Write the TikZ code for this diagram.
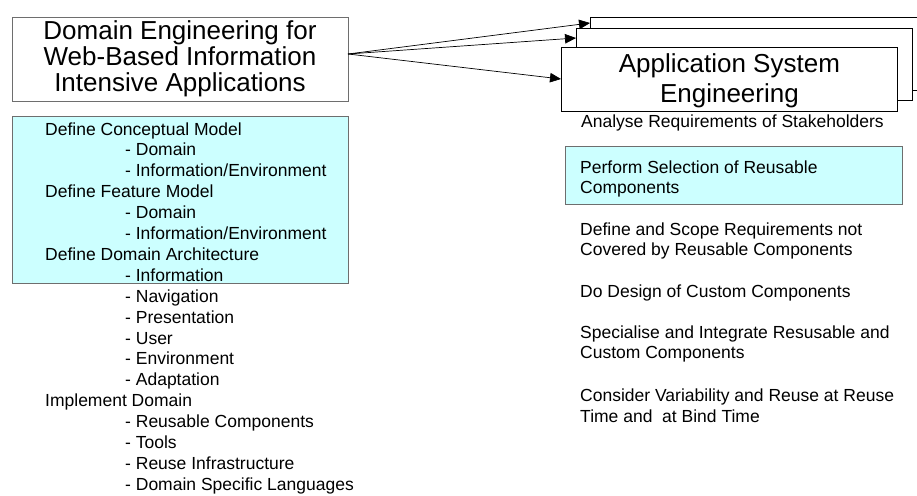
\documentclass[tikz,border=0pt]{standalone}
\usepackage{fontspec}
\setmainfont{Liberation Sans}
\usetikzlibrary{arrows.meta,calc}
\definecolor{paleCyan}{HTML}{CCFFFF}
\definecolor{edgeGray}{HTML}{6E6E6E}

\begin{document}
\begin{tikzpicture}[x=1pt,y=-1pt,
  titlebox/.style={draw=edgeGray, line width=0.9pt, fill=white, inner sep=0pt,
    align=center, font=\fontsize{26}{26}\selectfont},
  appbox/.style={draw=black, line width=0.8pt, fill=white, inner sep=0pt,
    anchor=north west, align=center},
  hilite/.style={draw=edgeGray, line width=0.9pt, fill=paleCyan, inner sep=0pt,
    anchor=north west},
  item/.style={anchor=base west, inner sep=0pt, font=\fontsize{17.5}{20}\selectfont},
  arr/.style={line width=0.7pt, -{Triangle[length=11pt,width=9.5pt]}}
]
\clip (0,0) rectangle (917,495);
\fill[white] (0,0) rectangle (917,495);

% ---- domain engineering side ----
\node[titlebox, minimum width=336pt, minimum height=84pt] (dom) at (180,59)
  {Domain Engineering for\\Web-Based Information\\Intensive Applications};
\coordinate (src) at (348,54);

\node[hilite, minimum width=336pt, minimum height=167pt] (dbox) at (12,116) {};

\node[item] (d1)  at (45,135.0) {Define Conceptual Model};
\node[item] (d2)  at (125,155.9) {- Domain};
\node[item] (d3)  at (125,176.8) {- Information/Environment};
\node[item] (d4)  at (45,197.7) {Define Feature Model};
\node[item] (d5)  at (125,218.6) {- Domain};
\node[item] (d6)  at (125,239.5) {- Information/Environment};
\node[item] (d7)  at (45,260.4) {Define Domain Architecture};
\node[item] (d8)  at (125,281.3) {- Information};
\node[item] (d9)  at (125,302.2) {- Navigation};
\node[item] (d10) at (125,323.1) {- Presentation};
\node[item] (d11) at (125,344.0) {- User};
\node[item] (d12) at (125,364.9) {- Environment};
\node[item] (d13) at (125,385.8) {- Adaptation};
\node[item] (d14) at (45,406.7) {Implement Domain};
\node[item] (d15) at (125,427.6) {- Reusable Components};
\node[item] (d16) at (125,448.5) {- Tools};
\node[item] (d17) at (125,469.4) {- Reuse Infrastructure};
\node[item] (d18) at (125,490.3) {- Domain Specific Languages};

% ---- application engineering side: stacked boxes ----
\node[appbox, minimum width=345pt, minimum height=73pt] (appB) at (590,17) {};
\node[appbox, minimum width=336pt, minimum height=72pt] (appM) at (576,28) {};
\node[appbox, minimum width=336pt, minimum height=64pt] (appF) at (561,47) {};
\node[inner sep=0pt, align=center, font=\fontsize{26}{30}\selectfont] (appT)
  at ($(appF.center)+(0,1)$) {Application System\\Engineering};

\draw[arr] (src) -- ($(appB.north west)+(0,6)$);
\draw[arr] (src) -- ($(appM.north west)+(0,10)$);
\draw[arr] (src) -- ($(appF.north west)+(0,32)$);

\node[hilite, minimum width=337pt, minimum height=58pt] (sbox) at (565,146) {};

\node[item] (a1)  at (581,127) {Analyse Requirements of Stakeholders};
\node[item] (a2)  at (580,173) {Perform Selection of Reusable};
\node[item] (a2b) at (580,193) {Components};
\node[item] (a3)  at (580,235) {Define and Scope Requirements not};
\node[item] (a3b) at (580,255) {Covered by Reusable Components};
\node[item] (a4)  at (580,297) {Do Design of Custom Components};
\node[item] (a5)  at (580,338) {Specialise and Integrate Resusable and};
\node[item] (a5b) at (580,358) {Custom Components};
\node[item] (a6)  at (580,401) {Consider Variability and Reuse at Reuse};
\node[item] (a6b) at (580,422) {Time and~~at Bind Time};
\end{tikzpicture}
\end{document}
